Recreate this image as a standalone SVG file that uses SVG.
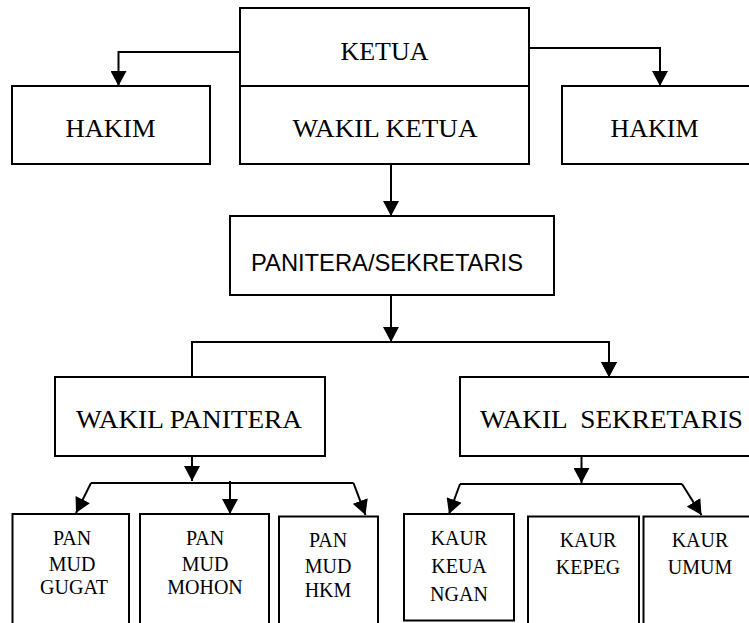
<svg xmlns="http://www.w3.org/2000/svg" width="749" height="623" viewBox="0 0 749 623">
<defs>
<marker id="ah" markerUnits="userSpaceOnUse" markerWidth="16" markerHeight="16" refX="15" refY="8" orient="auto">
<path d="M0,0 L15,8 L0,16 Z" fill="#000"/>
</marker>
<style>
rect{fill:#fff;stroke:#000;stroke-width:2}
.s{font-family:"Liberation Serif","Times New Roman",serif;fill:#000;text-anchor:middle}
.b{font-size:25px}
.m{font-size:20px}
.a{font-family:"Liberation Sans",Arial,sans-serif;font-size:23.4px;fill:#000;text-anchor:middle}
.c{fill:none;stroke:#000;stroke-width:2}
</style>
</defs>
<rect width="749" height="623" style="fill:#fff;stroke:none"/>
<g id="connectors">
<path class="c" d="M240,52 H118.5 V86" marker-end="url(#ah)"/>
<path class="c" d="M529,48 H660 V86" marker-end="url(#ah)"/>
<path class="c" d="M391,164 V216" marker-end="url(#ah)"/>
<path class="c" d="M391,295 V342" marker-end="url(#ah)"/>
<path class="c" d="M192,377 V342 H609 V377" marker-end="url(#ah)"/>
<path class="c" d="M609,342 V377" marker-end="url(#ah)"/>
<path class="c" d="M192,456 V481" marker-end="url(#ah)"/>
<path class="c" d="M91,483 H353.5"/>
<path class="c" d="M91,483 L76,513" marker-end="url(#ah)"/>
<path class="c" d="M230,481 V514" marker-end="url(#ah)"/>
<path class="c" d="M353.5,483 L365.5,515" marker-end="url(#ah)"/>
<path class="c" d="M581.5,456 V483" marker-end="url(#ah)"/>
<path class="c" d="M460,484 H682"/>
<path class="c" d="M460,484 L449,514" marker-end="url(#ah)"/>
<path class="c" d="M682,484 L701.5,515" marker-end="url(#ah)"/>
</g>
<g id="ketua">
<rect x="240" y="8" width="289" height="78"/>
<text class="s b" x="384.5" y="60" textLength="88" lengthAdjust="spacingAndGlyphs">KETUA</text>
</g>
<g id="wakil-ketua">
<rect x="240" y="86" width="289" height="78"/>
<text class="s b" x="385" y="137" textLength="185" lengthAdjust="spacingAndGlyphs">WAKIL KETUA</text>
</g>
<g id="hakim-kiri">
<rect x="12" y="86" width="198" height="78"/>
<text class="s b" x="110.5" y="137" textLength="90" lengthAdjust="spacingAndGlyphs">HAKIM</text>
</g>
<g id="hakim-kanan">
<rect x="562" y="86" width="190" height="78"/>
<text class="s b" x="654.5" y="137" textLength="88" lengthAdjust="spacingAndGlyphs">HAKIM</text>
</g>
<g id="panitera-sekretaris">
<rect x="230" y="216" width="324" height="79"/>
<text class="a" x="387" y="271" textLength="272" lengthAdjust="spacingAndGlyphs">PANITERA/SEKRETARIS</text>
</g>
<g id="wakil-panitera">
<rect x="55" y="377" width="270" height="79"/>
<text class="s b" x="189" y="428" textLength="226" lengthAdjust="spacingAndGlyphs">WAKIL PANITERA</text>
</g>
<g id="wakil-sekretaris">
<rect x="460" y="377" width="292" height="79"/>
<text class="s b" x="611.5" y="428" textLength="263" lengthAdjust="spacingAndGlyphs" style="white-space:pre">WAKIL  SEKRETARIS</text>
</g>
<g id="panmud-gugat">
<rect x="12.5" y="514" width="116.5" height="120"/>
<text class="s m" x="72" y="545">PAN</text>
<text class="s m" x="72" y="571">MUD</text>
<text class="s m" x="74" y="594">GUGAT</text>
</g>
<g id="panmud-mohon">
<rect x="140" y="514" width="129" height="120"/>
<text class="s m" x="205" y="545">PAN</text>
<text class="s m" x="205" y="571">MUD</text>
<text class="s m" x="205" y="594">MOHON</text>
</g>
<g id="panmud-hkm">
<rect x="279" y="516.5" width="99" height="120"/>
<text class="s m" x="328" y="547">PAN</text>
<text class="s m" x="328" y="572.5">MUD</text>
<text class="s m" x="328" y="597">HKM</text>
</g>
<g id="kaur-keuangan">
<rect x="404" y="514" width="110" height="106.5"/>
<text class="s m" x="459" y="545">KAUR</text>
<text class="s m" x="459" y="573">KEUA</text>
<text class="s m" x="459" y="601">NGAN</text>
</g>
<g id="kaur-kepeg">
<rect x="528" y="516.5" width="111" height="120"/>
<text class="s m" x="588" y="547">KAUR</text>
<text class="s m" x="588" y="574">KEPEG</text>
</g>
<g id="kaur-umum">
<rect x="643.5" y="516.5" width="110" height="120"/>
<text class="s m" x="700" y="547">KAUR</text>
<text class="s m" x="700" y="574">UMUM</text>
</g>
</svg>
